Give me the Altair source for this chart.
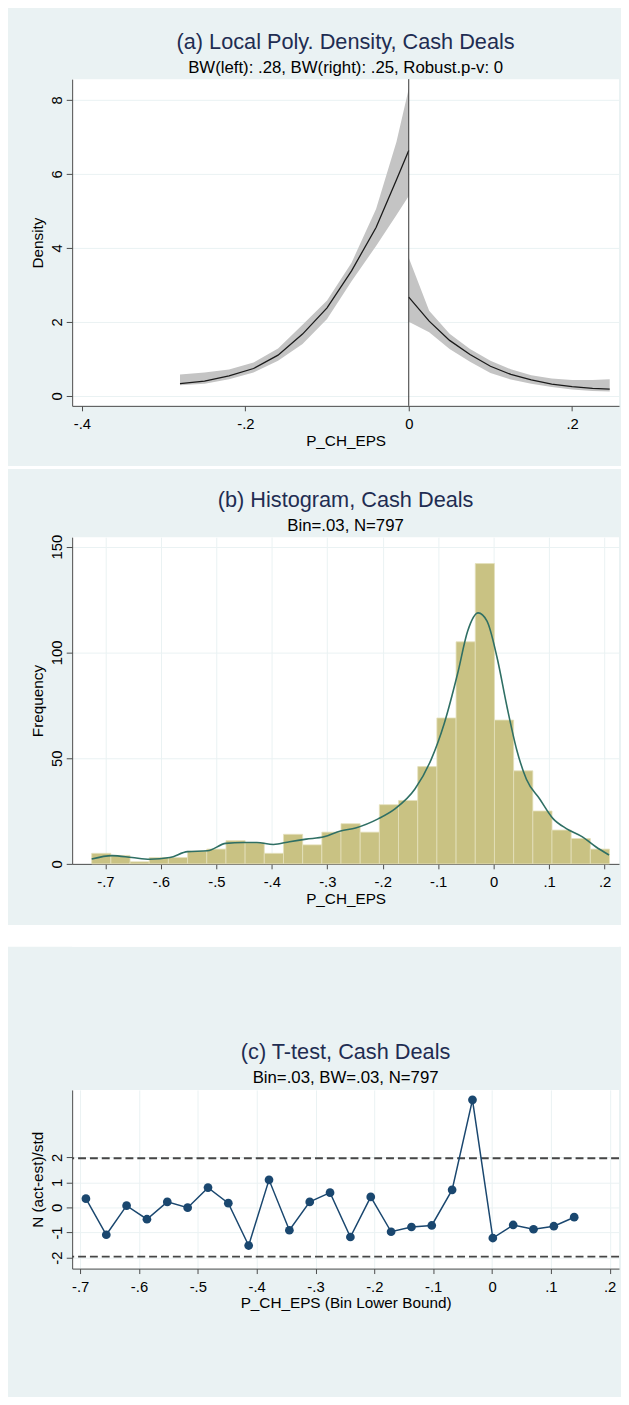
import altair as alt
import pandas as pd

BG = "#EAF2F3"
FONT = "Liberation Sans"
TITLE_C = "#1f2d52"
AXIS_C = "#4a4a4a"
W = 554

# ---------------- Panel (a): local polynomial density ----------------
a_left_x = [-0.28, -0.25, -0.22, -0.19, -0.16, -0.13, -0.10, -0.07, -0.04, -0.015, 0.0]
a_left_y = [0.33, 0.40, 0.54, 0.74, 1.10, 1.67, 2.38, 3.38, 4.55, 5.84, 6.63]
a_left_lo = [0.29, 0.33, 0.45, 0.63, 0.95, 1.40, 2.08, 3.10, 4.05, 4.89, 5.40]
a_left_hi = [0.58, 0.63, 0.71, 0.90, 1.28, 1.92, 2.58, 3.60, 5.05, 6.87, 8.30]
a_right_x = [0.0, 0.025, 0.05, 0.075, 0.10, 0.125, 0.15, 0.175, 0.20, 0.225, 0.246]
a_right_y = [2.67, 2.02, 1.50, 1.12, 0.80, 0.58, 0.43, 0.32, 0.25, 0.20, 0.18]
a_right_lo = [2.00, 1.72, 1.27, 0.92, 0.62, 0.44, 0.33, 0.24, 0.17, 0.13, 0.12]
a_right_hi = [3.73, 2.30, 1.68, 1.27, 0.95, 0.72, 0.56, 0.47, 0.43, 0.43, 0.45]
a_xticks = [-0.4, -0.2, 0, 0.2]
a_yticks = [0, 2, 4, 6, 8]

# ---------------- Panel (b): histogram ----------------
b_bin_width = 0.03458
b_bin_left = [-0.7248, -0.6902, -0.6556, -0.6211, -0.5865, -0.5519, -0.5173, -0.4827,
              -0.4482, -0.4136, -0.3790, -0.3444, -0.3098, -0.2753, -0.2407, -0.2061,
              -0.1715, -0.1369, -0.1024, -0.0678, -0.0332, 0.0014, 0.0360, 0.0706,
              0.1051, 0.1397, 0.1743]
b_counts = [5, 4, 1, 3, 3, 6, 7, 11, 10, 5, 14, 9, 15, 19, 15, 28, 30, 46, 69, 105,
            142, 68, 44, 25, 16, 12, 7]
b_kde_x = [-0.7248, -0.688, -0.652, -0.62, -0.584, -0.552, -0.516, -0.483, -0.451,
           -0.427, -0.397, -0.368, -0.338, -0.306, -0.276, -0.249, -0.2075, -0.178,
           -0.142, -0.1126, -0.089, -0.065, -0.047, -0.028, -0.012, 0.006, 0.024,
           0.0415, 0.059, 0.083, 0.107, 0.131, 0.16, 0.184, 0.208]
b_kde_y = [2.3, 3.9, 3.0, 2.2, 3.0, 5.8, 6.2, 9.7, 10.1, 10.1, 9.2, 10.5, 11.7, 12.8,
           15.6, 17.0, 21.4, 26.0, 35.4, 49.4, 66.5, 90.0, 110.0, 118.7, 114.8, 97.7,
           74.3, 54.0, 40.0, 30.7, 21.4, 16.7, 12.8, 8.1, 4.2]
b_xticks = [-0.7, -0.6, -0.5, -0.4, -0.3, -0.2, -0.1, 0, 0.1, 0.2]
b_yticks = [0, 50, 100, 150]

# ---------------- Panel (c): t-test ----------------
c_x = [-0.6902, -0.6556, -0.6211, -0.5865, -0.5519, -0.5173, -0.4827, -0.4482,
       -0.4136, -0.3790, -0.3444, -0.3098, -0.2753, -0.2407, -0.2061, -0.1715,
       -0.1369, -0.1024, -0.0678, -0.0332, 0.0014, 0.0360, 0.0706, 0.1051, 0.1397]
c_t = [0.35, -1.09, 0.07, -0.47, 0.22, -0.01, 0.79, 0.17, -1.52, 1.10, -0.91, 0.22,
       0.59, -1.18, 0.42, -0.97, -0.78, -0.72, 0.70, 4.29, -1.22, -0.70, -0.87, -0.75,
       -0.39]
c_crit = [1.96, -1.96]
c_xticks = [-0.7, -0.6, -0.5, -0.4, -0.3, -0.2, -0.1, 0, 0.1, 0.2]
c_yticks = [-2, -1, 0, 1, 2]

LABEL_EXPR = "replace(toString(datum.value), '0.', '.')"
ONE = pd.DataFrame({"k": [0]})


def xaxis(values, title, grid):
    return alt.Axis(values=values, title=title, grid=grid, gridColor=BG, gridWidth=1,
                    labelExpr=LABEL_EXPR, labelFlush=False, labelOverlap=False,
                    labelFont=FONT, labelFontSize=15, labelColor="black", labelPadding=6,
                    tickSize=5, tickColor=AXIS_C, domainColor=AXIS_C,
                    titleFont=FONT, titleFontSize=15.5, titleFontWeight="normal",
                    titleColor="black", titleX=W / 2, titleY=34.7,
                    titleAlign="center", titleBaseline="middle")


def yaxis(values, title, h):
    return alt.Axis(values=values, title=title, grid=True, gridColor=BG, gridWidth=1,
                    labelExpr=LABEL_EXPR, labelOverlap=False, labelFlush=False,
                    labelAngle=270, labelAlign="center", labelBaseline="middle",
                    labelFont=FONT, labelFontSize=15, labelColor="black", labelPadding=10,
                    tickSize=6, tickColor=AXIS_C, domainColor=AXIS_C,
                    titleFont=FONT, titleFontSize=15.5, titleFontWeight="normal",
                    titleColor="black", titleX=-35, titleY=h / 2, titleAngle=270,
                    titleAlign="center", titleBaseline="middle")


def extent(top, bottom):
    # invisible box that fixes each panel's outer size (the grey graph region)
    return alt.Chart(ONE).mark_rect(fill=BG, opacity=0).encode(
        x=alt.value(-65), x2=alt.value(W + 2), y=alt.value(top), y2=alt.value(bottom))


def titles(main, sub, ymain=-37.5, ysub=-11):
    t1 = alt.Chart(ONE).mark_text(font=FONT, fontSize=22, color=TITLE_C, align="center",
                                  baseline="middle").encode(
        x=alt.value(W / 2), y=alt.value(ymain), text=alt.value(main))
    t2 = alt.Chart(ONE).mark_text(font=FONT, fontSize=17, color="black", align="center",
                                  baseline="middle").encode(
        x=alt.value(W / 2), y=alt.value(ysub), text=alt.value(sub))
    return [t1, t2]


def spacer(h):
    return alt.Chart(ONE).mark_rect(fill="white").encode(
        x=alt.value(-65), x2=alt.value(W + 2), y=alt.value(0), y2=alt.value(h)
    ).properties(width=W, height=h)


# ---- Panel (a)
HA = 331
dfa = pd.concat([
    pd.DataFrame({"x": a_left_x, "y": a_left_y, "lo": a_left_lo, "hi": a_left_hi, "side": "L"}),
    pd.DataFrame({"x": a_right_x, "y": a_right_y, "lo": a_right_lo, "hi": a_right_hi, "side": "R"}),
])
xs_a = alt.Scale(domain=[-0.412, 0.2574], nice=False, zero=False)
ys_a = alt.Scale(domain=[-0.27, 8.56], nice=False, zero=False)
ax_a = alt.X("x:Q", scale=xs_a, axis=xaxis(a_xticks, "P_CH_EPS", False))
band = alt.Chart(dfa).mark_area(color="#c4c4c4", opacity=1).encode(
    x=ax_a, y=alt.Y("lo:Q", scale=ys_a, axis=yaxis(a_yticks, "Density", HA)),
    y2="hi:Q", detail="side:N")
line_a = alt.Chart(dfa).mark_line(color="#1a1a1a", strokeWidth=1.3).encode(
    x=ax_a, y=alt.Y("y:Q", scale=ys_a, axis=yaxis(a_yticks, "Density", HA)), detail="side:N")
vline = alt.Chart(pd.DataFrame({"x": [0.0]})).mark_rule(color="#333333", strokeWidth=1).encode(
    x=ax_a)
panel_a = alt.layer(extent(-63, 392), band, line_a, vline,
                    *titles("(a) Local Poly. Density, Cash Deals",
                            "BW(left): .28, BW(right): .25, Robust.p-v: 0")
                    ).properties(width=W, height=HA)

# ---- Panel (b)
HB = 331
dfb = pd.DataFrame({"x0": b_bin_left, "n": b_counts})
dfb["x1"] = dfb["x0"] + b_bin_width
dfb["base"] = 0
dfk = pd.DataFrame({"x": b_kde_x, "y": b_kde_y})
xs_b = alt.Scale(domain=[-0.76, 0.226], nice=False, zero=False)
ys_b = alt.Scale(domain=[0, 154.5], nice=False, zero=False)
bars = alt.Chart(dfb).mark_rect(color="#c9c283", stroke="#e4e0bc", strokeWidth=0.8).encode(
    x=alt.X("x0:Q", scale=xs_b, axis=xaxis(b_xticks, "P_CH_EPS", True)), x2="x1:Q",
    y=alt.Y("n:Q", scale=ys_b, axis=yaxis(b_yticks, "Frequency", HB)), y2="base:Q")
kde = alt.Chart(dfk).mark_line(color="#2f6f64", strokeWidth=1.6, interpolate="monotone").encode(
    x=alt.X("x:Q", scale=xs_b, axis=xaxis(b_xticks, "P_CH_EPS", True)),
    y=alt.Y("y:Q", scale=ys_b, axis=yaxis(b_yticks, "Frequency", HB)))
panel_b = alt.layer(extent(-69, 393), bars, kde,
                    *titles("(b) Histogram, Cash Deals", "Bin=.03, N=797")
                    ).properties(width=W, height=HB)

# ---- Panel (c)
HC = 181
dfc = pd.DataFrame({"x": c_x, "t": c_t})
xs_c = alt.Scale(domain=[-0.7136, 0.2159], nice=False, zero=False)
ys_c = alt.Scale(domain=[-2.44, 4.685], nice=False, zero=False)
xe_c = alt.X("x:Q", scale=xs_c, axis=xaxis(c_xticks, "P_CH_EPS (Bin Lower Bound)", True))
ye_c = alt.Y("t:Q", scale=ys_c, axis=yaxis(c_yticks, "N (act-est)/std", HC))
crit = alt.Chart(pd.DataFrame({"t": c_crit})).mark_rule(
    color="#454545", strokeDash=[8, 4], strokeWidth=1.9).encode(y=ye_c)
line_c = alt.Chart(dfc).mark_line(color="#1a476f", strokeWidth=1.5).encode(x=xe_c, y=ye_c)
pts_c = alt.Chart(dfc).mark_circle(color="#1a476f", size=78, opacity=1).encode(x=xe_c, y=ye_c)
panel_c = alt.layer(extent(-145, 302), crit, line_c, pts_c,
                    *titles("(c) T-test, Cash Deals", "Bin=.03, BW=.03, N=797", -38, -12)
                    ).properties(width=W, height=HC)

chart = alt.vconcat(panel_a, spacer(3), panel_b, spacer(22), panel_c, spacing=0).properties(
    background=BG, padding=0
).configure_view(fill="white", strokeWidth=0)

chart.save("out.html", embed_options={"renderer": "svg", "actions": False})
